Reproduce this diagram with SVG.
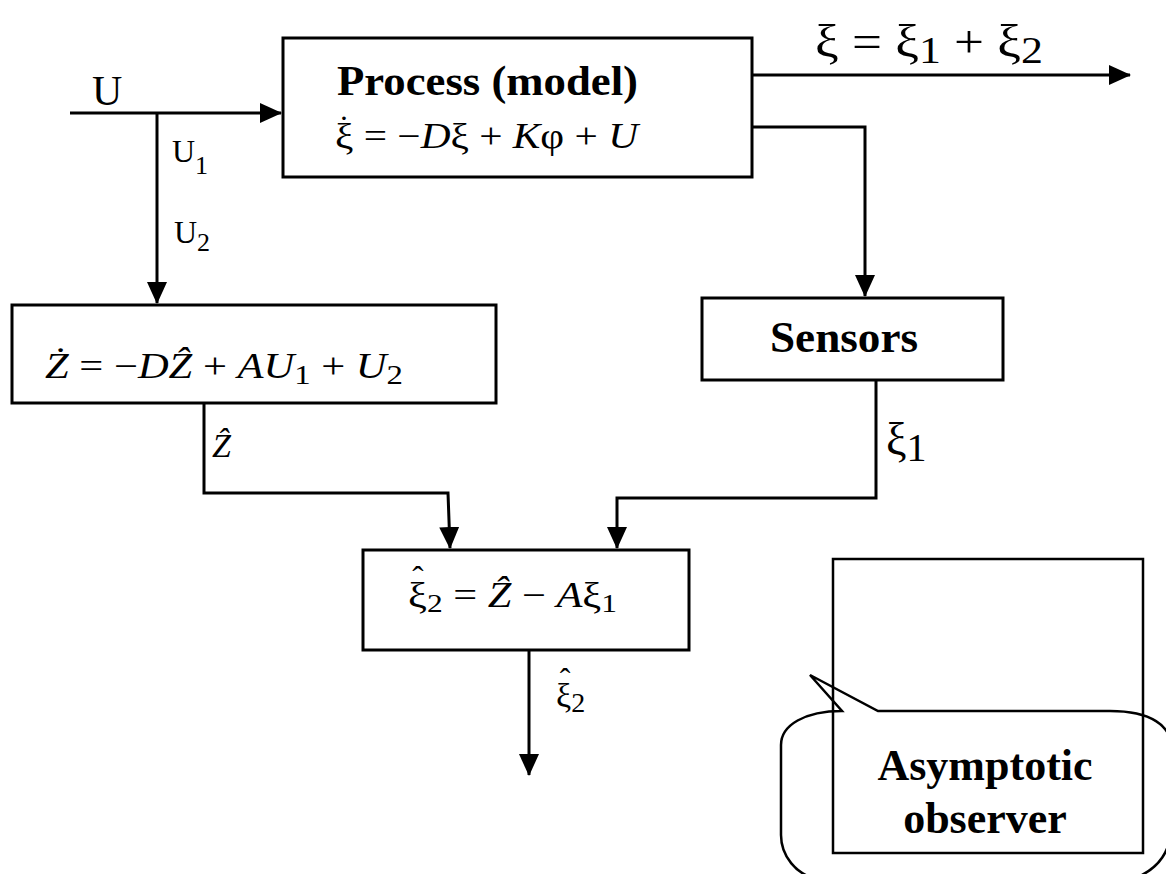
<svg xmlns="http://www.w3.org/2000/svg" width="1166" height="874" viewBox="0 0 1166 874">
<style>
.box{fill:#fff;stroke:#000;stroke-width:3}
.ln{fill:none;stroke:#000;stroke-width:3}
.t{font-family:"Liberation Serif","Times New Roman",serif;fill:#000}
.b{font-weight:bold}
.i{font-style:italic}
</style>
<defs>
<marker id="ah" markerUnits="userSpaceOnUse" markerWidth="22" markerHeight="20" refX="21" refY="10" orient="auto">
<path d="M0,0 L22,10 L0,20 Z" fill="#000"/>
</marker>
</defs>
<rect width="1166" height="874" fill="#fff"/>

<g id="connectors">
<path class="ln" d="M70,113 H281" marker-end="url(#ah)"/>
<path class="ln" d="M157,113 V303" marker-end="url(#ah)"/>
<path class="ln" d="M752,75 H1130" marker-end="url(#ah)"/>
<path class="ln" d="M752,127 H865 V296" marker-end="url(#ah)"/>
<path class="ln" d="M876,380 V498 H617 V548" marker-end="url(#ah)"/>
<path class="ln" d="M204,403 V493 H448 L450,548" marker-end="url(#ah)"/>
<path class="ln" d="M529,650 V775" marker-end="url(#ah)"/>
<text class="t" x="92" y="105" font-size="42">U</text>
<text class="t" x="172" y="162" font-size="32">U<tspan font-size="26" dy="12">1</tspan></text>
<text class="t" x="174" y="243" font-size="32">U<tspan font-size="26" dy="8">2</tspan></text>
<text class="t" x="815" y="57" font-size="46" textLength="228" lengthAdjust="spacingAndGlyphs">ξ = ξ<tspan font-size="38" dy="6">1</tspan><tspan dy="-6"> + ξ</tspan><tspan font-size="38" dy="6">2</tspan></text>
<text class="t i" x="212" y="457" font-size="34">Ẑ</text>
<text class="t" x="886" y="455" font-size="46">ξ<tspan font-size="40" dy="6">1</tspan></text>
<text class="t" x="556" y="707" font-size="34">ξ<tspan font-size="28" dy="5">2</tspan></text>
<text class="t" x="565" y="690" font-size="32" text-anchor="middle">ˆ</text>
</g>

<g id="process">
<rect class="box" x="283" y="38" width="469" height="139"/>
<text class="t b" x="337" y="95" font-size="42" textLength="301" lengthAdjust="spacingAndGlyphs">Process (model)</text>
<text class="t" x="335" y="148" font-size="35" textLength="303" lengthAdjust="spacingAndGlyphs">ξ = −<tspan class="i">D</tspan>ξ + <tspan class="i">K</tspan>φ + <tspan class="i">U</tspan></text>
<text class="t" x="344" y="139" font-size="34" text-anchor="middle">˙</text>
</g>

<g id="z-estimator">
<rect class="box" x="12" y="305" width="484" height="98"/>
<text class="t" x="45" y="378" font-size="35" textLength="358" lengthAdjust="spacingAndGlyphs"><tspan class="i">Ż</tspan> = −<tspan class="i">DẐ</tspan> + <tspan class="i">AU</tspan><tspan font-size="27" dy="6">1</tspan><tspan dy="-6"> + </tspan><tspan class="i">U</tspan><tspan font-size="27" dy="6">2</tspan></text>
</g>

<g id="sensors">
<rect class="box" x="702" y="298" width="301" height="82"/>
<text class="t b" x="770" y="352" font-size="44" textLength="148" lengthAdjust="spacingAndGlyphs">Sensors</text>
</g>

<g id="xi2-estimate">
<rect class="box" x="363" y="550" width="326" height="100"/>
<text class="t" x="408" y="607" font-size="35" textLength="209" lengthAdjust="spacingAndGlyphs">ξ<tspan font-size="26" dy="5">2</tspan><tspan dy="-5"> = </tspan><tspan class="i">Ẑ</tspan> − <tspan class="i">A</tspan>ξ<tspan font-size="26" dy="5">1</tspan></text>
<text class="t" x="418" y="590" font-size="34" text-anchor="middle">ˆ</text>
</g>

<g id="asymptotic-observer">
<rect x="833" y="559" width="310" height="294" fill="none" stroke="#000" stroke-width="2.5"/>
<path d="M878,711 L1110,711 C1150,711 1172,725 1172,750 L1172,820 C1172,850 1160,870 1130,880 L820,880 C795,875 781,855 781,835 L781,745 C781,725 805,711 842,711 L810,675 Z" fill="none" stroke="#000" stroke-width="2.5"/>
<text class="t b" x="985" y="780" font-size="44" text-anchor="middle">Asymptotic</text>
<text class="t b" x="985" y="833" font-size="44" text-anchor="middle">observer</text>
</g>
</svg>
